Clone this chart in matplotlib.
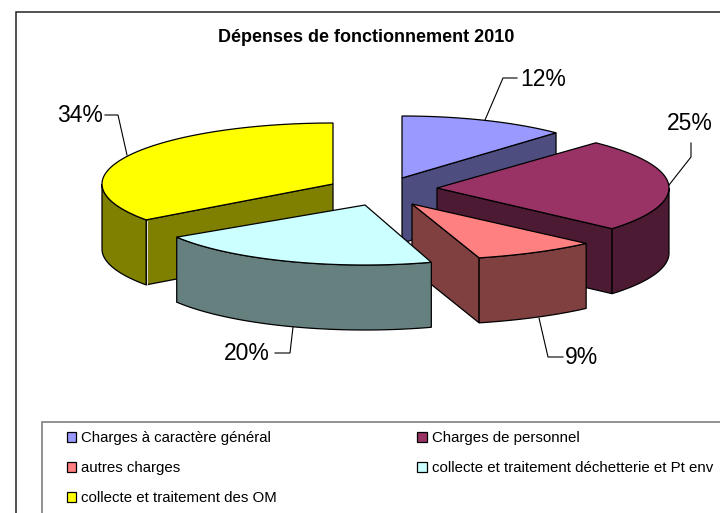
import numpy as np
import matplotlib
matplotlib.use('Agg')
import matplotlib.pyplot as plt
from matplotlib.patches import Polygon, Patch, Rectangle

plt.rcParams['font.family'] = 'Liberation Sans'

# Data
categories = ['Charges à caractère général', 'Charges de personnel', 'autres charges',
              'collecte et traitement déchetterie et Pt env', 'collecte et traitement des OM']
shares = [12, 25, 9, 20, 34]
labels = ['12%', '25%', '9%', '20%', '34%']
title = 'Dépenses de fonctionnement 2010'

# Style
top_colors = ['#9999FF', '#993366', '#FF8080', '#CCFFFF', '#FFFF00']
side_colors = ['#4D4D80', '#4D1A33', '#804040', '#668080', '#808000']
apex = [(402, 178), (437, 188), (412, 204), (365, 205), (333, 184)]
radii = [(225, 62), (232, 62), (245, 56), (223, 60), (231, 61)]
# small angle shifts of the wedge corners, the perspective pulls them a bit
nudge = [(0, 0), (0, -2.2), (1.5, -1.5), (-2.9, 0), (-3.6, 0)]
radial_wall = ['end', 'end', 'end', None, 'start']
depth = 65
draw_order = [0, 4, 1, 2, 3]

label_pos = [(543, 79), (690, 124), (581, 357), (247, 353), (80, 115)]
leaders = [[(485, 120), (503, 78), (517, 78)],
           [(669, 185), (691, 157), (691, 143)],
           [(539, 318), (548, 357), (563, 357)],
           [(293, 327), (290, 353), (275, 353)],
           [(127, 155), (118, 115), (105, 115)]]

fig = plt.figure(figsize=(7.2, 5.13), dpi=100)
ax = fig.add_axes([0, 0, 1, 1])
ax.set_xlim(0, 720)
ax.set_ylim(513, 0)
ax.axis('off')

# Outer chart frame runs off the right and bottom of the picture
ax.add_patch(Rectangle((16, 12), 800, 600, fc='white', ec='#222222', lw=1.1))


def arc(i, a0, a1):
    t = np.radians(np.linspace(a0, a1, 80))
    x = apex[i][0] + radii[i][0] * np.sin(t)
    y = apex[i][1] - radii[i][1] * np.cos(t)
    return np.column_stack([x, y])


def wall(pts, color, z):
    low = pts[::-1] + [0, depth]
    ax.add_patch(Polygon(np.vstack([pts, low]), closed=True, fc=color, ec='black', lw=0.9, zorder=z))


edges = np.cumsum([0] + shares) * 3.6

for z, i in enumerate(draw_order):
    a0, a1 = edges[i] + nudge[i][0], edges[i + 1] + nudge[i][1]
    base = z * 10 + 2
    pts = arc(i, a0, a1)

    # radial wall, apex to rim
    if radial_wall[i]:
        rim = pts[-1] if radial_wall[i] == 'end' else pts[0]
        wall(np.array([apex[i], rim]), side_colors[i], base)

    # outer wall, only the front half of the rim can be seen
    lo, hi = max(a0, 90), min(a1, 270)
    if lo < hi:
        wall(arc(i, lo, hi), side_colors[i], base + 1)

    # top face
    ax.add_patch(Polygon(np.vstack([[apex[i]], pts]), closed=True, fc=top_colors[i],
                         ec='black', lw=0.9, zorder=base + 2))

    # light seam on the yellow wedge where its two walls meet
    if radial_wall[i] == 'start':
        ax.plot([pts[0][0] + 1, pts[0][0] + 1], [pts[0][1] + 1, pts[0][1] + depth],
                color='#DDDDDD', lw=0.7, zorder=base + 1.5)

# Value labels with leader lines
for txt, pos, line in zip(labels, label_pos, leaders):
    ax.plot(*zip(*line), color='black', lw=0.8, zorder=100)
    ax.text(pos[0], pos[1], txt, fontsize=16.5, ha='center', va='center', zorder=100)

ax.text(366, 37, title, fontsize=13, fontweight='bold', ha='center', va='center', zorder=100)

# Legend box, also cut off by the picture edge
ax.add_patch(Rectangle((42, 422), 800, 200, fc='white', ec='#7F7F7F', lw=1.2, zorder=90))

# Legend, filled row by row
handles = [Patch(fc=c, ec='black', lw=0.9) for c in top_colors]
order = [0, 2, 4, 1, 3]
leg = ax.legend([handles[i] for i in order], [categories[i] for i in order],
                ncol=2, loc='upper left', bbox_to_anchor=(67, 431), bbox_transform=ax.transData,
                fontsize=10.85, frameon=False, borderaxespad=0, borderpad=0,
                handlelength=0.62, handleheight=0.62, handletextpad=0.33,
                labelspacing=1.07, columnspacing=9.3)
leg.set_zorder(100)

fig.savefig('out.png', dpi=100)
